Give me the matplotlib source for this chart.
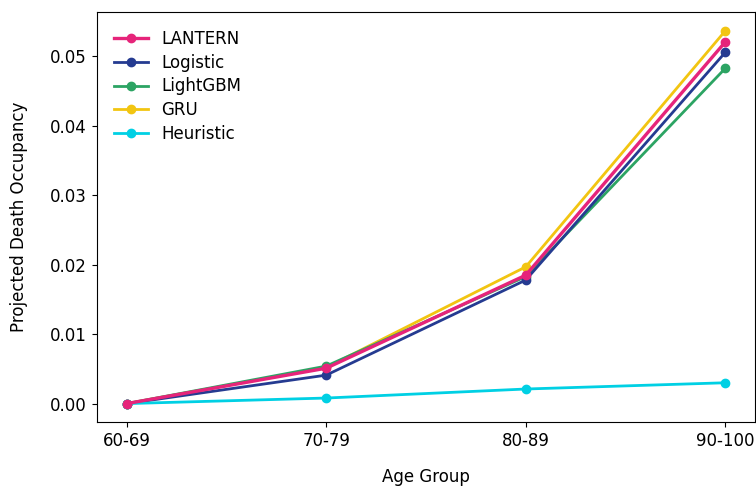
import matplotlib.pyplot as plt
import numpy as np

age_groups = ["60-69", "70-79", "80-89", "90-100"]

lantern = [0.0, 0.0051, 0.0185, 0.0521]
logistic = [0.0, 0.0041, 0.0178, 0.0506]
lightgbm = [0.0, 0.0054, 0.0183, 0.0483]
gru = [0.0, 0.0052, 0.0197, 0.0537]
heuristic = [0.0, 0.0008, 0.0021, 0.0030]

series = [
    ("LANTERN", lantern, "#E6247A", 2.4, 5),
    ("Logistic", logistic, "#253B91", 2.0, 3),
    ("LightGBM", lightgbm, "#2CA463", 2.0, 2),
    ("GRU", gru, "#F2C511", 2.0, 1),
    ("Heuristic", heuristic, "#00D0E4", 2.0, 4),
]

fig, ax = plt.subplots(figsize=(7.56, 4.87), dpi=100)
x = np.arange(len(age_groups))
for name, vals, color, lw, z in series:
    ax.plot(x, vals, marker="o", markersize=6, linewidth=lw, color=color,
            label=name, zorder=z)

ax.set_xticks(x)
ax.set_xticklabels(age_groups, fontsize=12)
ax.tick_params(axis="y", labelsize=12)
ax.set_xlabel("Age Group", fontsize=12, labelpad=13)
ax.set_ylabel("Projected Death Occupancy", fontsize=12, labelpad=16)
ax.legend(frameon=False, fontsize=12, loc="upper left",
          labelspacing=0.35, borderaxespad=0.65)

fig.subplots_adjust(left=0.128, right=0.999, top=0.975, bottom=0.133)
plt.savefig("out.png", dpi=100)
plt.close()
